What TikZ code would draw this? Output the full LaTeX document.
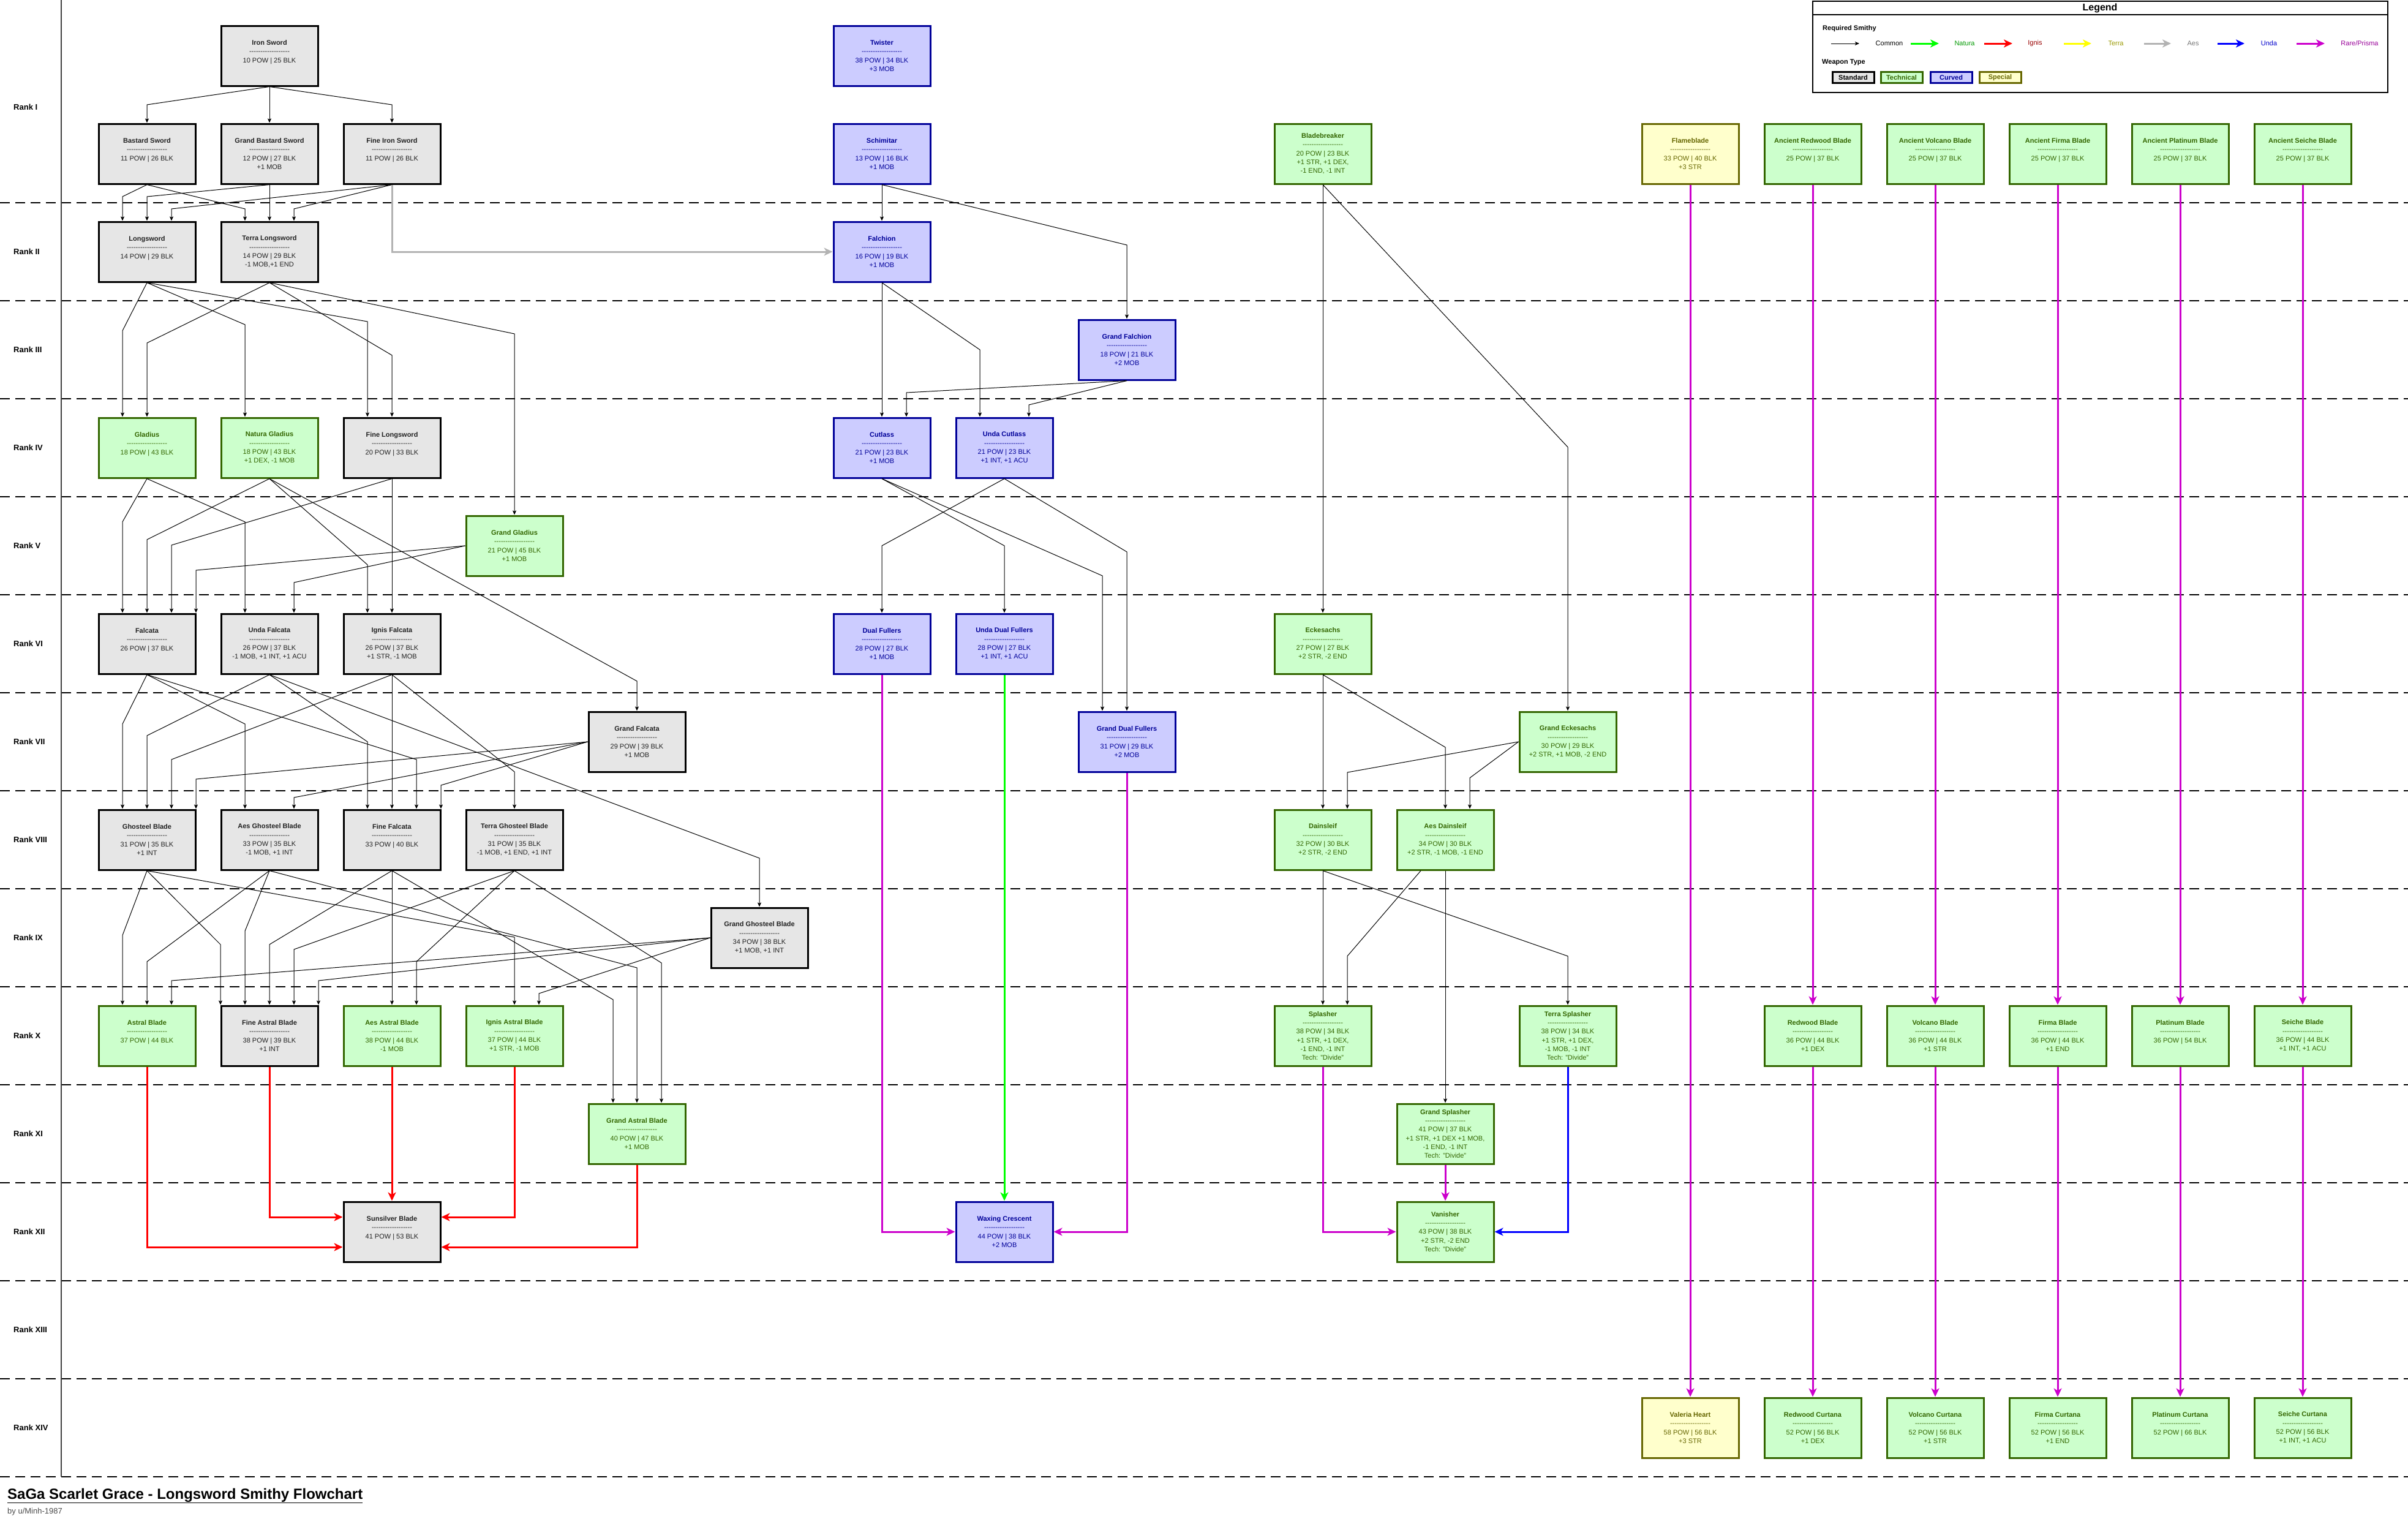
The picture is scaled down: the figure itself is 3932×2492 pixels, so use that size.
\documentclass[tikz,border=0pt]{standalone}
\usepackage{fontspec}
\setmainfont{Liberation Sans}
\usetikzlibrary{arrows.meta}
\definecolor{stdfill}{HTML}{E6E6E6}
\definecolor{stdtext}{HTML}{222222}
\definecolor{techfill}{HTML}{CCFFCC}
\definecolor{techline}{HTML}{336600}
\definecolor{curvfill}{HTML}{CCCCFF}
\definecolor{curvline}{HTML}{000099}
\definecolor{specfill}{HTML}{FFFFCC}
\definecolor{specline}{HTML}{666600}
\definecolor{cnatura}{HTML}{00FF00}
\definecolor{cignis}{HTML}{FF0000}
\definecolor{cterra}{HTML}{FFFF00}
\definecolor{caes}{HTML}{B3B3B3}
\definecolor{cunda}{HTML}{0000FF}
\definecolor{crare}{HTML}{CC00CC}
\definecolor{tnatura}{HTML}{009900}
\definecolor{tignis}{HTML}{990000}
\definecolor{tterra}{HTML}{999900}
\definecolor{taes}{HTML}{777777}
\definecolor{tunda}{HTML}{0000CC}
\definecolor{trare}{HTML}{990099}
\newcommand\hy{\mbox{-}\mbox{-}\mbox{-}\mbox{-}\mbox{-}\mbox{-}\mbox{-}\mbox{-}\mbox{-}\mbox{-}\mbox{-}\mbox{-}\mbox{-}\mbox{-}\mbox{-}\mbox{-}\mbox{-}\mbox{-}}
\newcommand\wpn[2]{\textbf{#1}\\\hy\\#2}
\newcommand\wpo[2]{\textbf{#1}\\\hy\\#2\\\mbox{}}
\newcommand\ed[4]{\draw[cmn] (#1) -- (#2,#3) -- (#2,#3 |- #4.north);}
\tikzset{
  wbox/.style={rectangle, minimum width=158pt, minimum height=98pt, inner sep=0pt, line width=3pt, align=center, font=\fontsize{11}{14.3}\selectfont},
  std/.style={wbox, draw=black, fill=stdfill, text=stdtext},
  tech/.style={wbox, draw=techline, fill=techfill, text=techline},
  curv/.style={wbox, draw=curvline, fill=curvfill, text=curvline},
  spec/.style={wbox, draw=specline, fill=specfill, text=specline},
  cmn/.style={draw=black, line width=1pt, -{Stealth[length=7pt,width=6pt,inset=1.5pt]}},
  fat/.style={line width=3pt, -{Stealth[length=14pt,width=13pt,inset=4pt]}},
  natura/.style={fat, draw=cnatura},
  ignis/.style={fat, draw=cignis},
  terra/.style={fat, draw=cterra},
  aes/.style={fat, draw=caes},
  unda/.style={fat, draw=cunda},
  rare/.style={fat, draw=crare},
  rankline/.style={draw=black, line width=1.4pt, dash pattern=on 16pt off 9pt},
  ranklbl/.style={anchor=west, font=\bfseries\fontsize{13}{15}\selectfont, inner sep=0pt},
  lgtxt/.style={font=\fontsize{11}{13}\selectfont, inner sep=0pt},
  swatch/.style={line width=3pt, minimum width=68pt, minimum height=18.5pt, inner sep=0pt, font=\bfseries\fontsize{11}{13}\selectfont}
}
\begin{document}
\begin{tikzpicture}[x=1pt,y=-1pt]
\fill[white] (0,0) rectangle (3932,2492);
\useasboundingbox (0,0) rectangle (3932,2492);
% rank separators
\foreach \yy in {331,491,...,2411} \draw[rankline] (0,\yy) -- (3932,\yy);
\draw[line width=1.5pt, black!75] (100,0) -- (100,2411);
\foreach \lab/\yy in {I/175,II/411,III/571,IV/731,V/891,VI/1051,VII/1211,VIII/1371,IX/1531,X/1691,XI/1851,XII/2011,XIII/2171,XIV/2331}
  \node[ranklbl] (rk\lab) at (22,\yy) {Rank \lab};

% ---------------- nodes ----------------
\node[std] (iron) at (440,91) {\wpo{Iron Sword}{10 POW | 25 BLK}};
\node[curv] (twister) at (1440,91) {\wpn{Twister}{38 POW | 34 BLK\\+3 MOB}};
\node[std] (bastard) at (240,251) {\wpo{Bastard Sword}{11 POW | 26 BLK}};
\node[std] (gbastard) at (440,251) {\wpn{Grand Bastard Sword}{12 POW | 27 BLK\\+1 MOB}};
\node[std] (fineiron) at (640,251) {\wpo{Fine Iron Sword}{11 POW | 26 BLK}};
\node[curv] (schimitar) at (1440,251) {\wpn{Schimitar}{13 POW | 16 BLK\\+1 MOB}};
\node[tech] (bladebreaker) at (2160,251) {\wpn{Bladebreaker}{20 POW | 23 BLK\\+1 STR, +1 DEX,\\-1 END, -1 INT}};
\node[spec] (flameblade) at (2760,251) {\wpn{Flameblade}{33 POW | 40 BLK\\+3 STR}};
\node[tech] (aredwood) at (2960,251) {\wpo{Ancient Redwood Blade}{25 POW | 37 BLK}};
\node[tech] (avolcano) at (3160,251) {\wpo{Ancient Volcano Blade}{25 POW | 37 BLK}};
\node[tech] (afirma) at (3360,251) {\wpo{Ancient Firma Blade}{25 POW | 37 BLK}};
\node[tech] (aplatinum) at (3560,251) {\wpo{Ancient Platinum Blade}{25 POW | 37 BLK}};
\node[tech] (aseiche) at (3760,251) {\wpo{Ancient Seiche Blade}{25 POW | 37 BLK}};
\node[std] (longsword) at (240,411) {\wpo{Longsword}{14 POW | 29 BLK}};
\node[std] (terralong) at (440,411) {\wpn{Terra Longsword}{14 POW | 29 BLK\\-1 MOB,+1 END}};
\node[curv] (falchion) at (1440,411) {\wpn{Falchion}{16 POW | 19 BLK\\+1 MOB}};
\node[curv] (gfalchion) at (1840,571) {\wpn{Grand Falchion}{18 POW | 21 BLK\\+2 MOB}};
\node[tech] (gladius) at (240,731) {\wpo{Gladius}{18 POW | 43 BLK}};
\node[tech] (nagladius) at (440,731) {\wpn{Natura Gladius}{18 POW | 43 BLK\\+1 DEX, -1 MOB}};
\node[std] (finelong) at (640,731) {\wpo{Fine Longsword}{20 POW | 33 BLK}};
\node[curv] (cutlass) at (1440,731) {\wpn{Cutlass}{21 POW | 23 BLK\\+1 MOB}};
\node[curv] (ucutlass) at (1640,731) {\wpn{Unda Cutlass}{21 POW | 23 BLK\\+1 INT, +1 ACU}};
\node[tech] (ggladius) at (840,891) {\wpn{Grand Gladius}{21 POW | 45 BLK\\+1 MOB}};
\node[std] (falcata) at (240,1051) {\wpo{Falcata}{26 POW | 37 BLK}};
\node[std] (ufalcata) at (440,1051) {\wpn{Unda Falcata}{26 POW | 37 BLK\\-1 MOB, +1 INT, +1 ACU}};
\node[std] (ifalcata) at (640,1051) {\wpn{Ignis Falcata}{26 POW | 37 BLK\\+1 STR, -1 MOB}};
\node[curv] (dualf) at (1440,1051) {\wpn{Dual Fullers}{28 POW | 27 BLK\\+1 MOB}};
\node[curv] (udualf) at (1640,1051) {\wpn{Unda Dual Fullers}{28 POW | 27 BLK\\+1 INT, +1 ACU}};
\node[tech] (eckesachs) at (2160,1051) {\wpn{Eckesachs}{27 POW | 27 BLK\\+2 STR, -2 END}};
\node[std] (gfalcata) at (1040,1211) {\wpn{Grand Falcata}{29 POW | 39 BLK\\+1 MOB}};
\node[curv] (gdualf) at (1840,1211) {\wpn{Grand Dual Fullers}{31 POW | 29 BLK\\+2 MOB}};
\node[tech] (geckesachs) at (2560,1211) {\wpn{Grand Eckesachs}{30 POW | 29 BLK\\+2 STR, +1 MOB, -2 END}};
\node[std] (ghosteel) at (240,1371) {\wpn{Ghosteel Blade}{31 POW | 35 BLK\\+1 INT}};
\node[std] (aghosteel) at (440,1371) {\wpn{Aes Ghosteel Blade}{33 POW | 35 BLK\\-1 MOB, +1 INT}};
\node[std] (finefalcata) at (640,1371) {\wpo{Fine Falcata}{33 POW | 40 BLK}};
\node[std] (tghosteel) at (840,1371) {\wpn{Terra Ghosteel Blade}{31 POW | 35 BLK\\-1 MOB, +1 END, +1 INT}};
\node[tech] (dainsleif) at (2160,1371) {\wpn{Dainsleif}{32 POW | 30 BLK\\+2 STR, -2 END}};
\node[tech] (adainsleif) at (2360,1371) {\wpn{Aes Dainsleif}{34 POW | 30 BLK\\+2 STR, -1 MOB, -1 END}};
\node[std] (gghosteel) at (1240,1531) {\wpn{Grand Ghosteel Blade}{34 POW | 38 BLK\\+1 MOB, +1 INT}};
\node[tech] (astral) at (240,1691) {\wpo{Astral Blade}{37 POW | 44 BLK}};
\node[std] (fastral) at (440,1691) {\wpn{Fine Astral Blade}{38 POW | 39 BLK\\+1 INT}};
\node[tech] (aastral) at (640,1691) {\wpn{Aes Astral Blade}{38 POW | 44 BLK\\-1 MOB}};
\node[tech] (iastral) at (840,1691) {\wpn{Ignis Astral Blade}{37 POW | 44 BLK\\+1 STR, -1 MOB}};
\node[tech] (splasher) at (2160,1691) {\wpn{Splasher}{38 POW | 34 BLK\\+1 STR, +1 DEX,\\-1 END, -1 INT\\Tech: "Divide"}};
\node[tech] (tsplasher) at (2560,1691) {\wpn{Terra Splasher}{38 POW | 34 BLK\\+1 STR, +1 DEX,\\-1 MOB, -1 INT\\Tech: "Divide"}};
\node[tech] (redwood) at (2960,1691) {\wpn{Redwood Blade}{36 POW | 44 BLK\\+1 DEX}};
\node[tech] (volcano) at (3160,1691) {\wpn{Volcano Blade}{36 POW | 44 BLK\\+1 STR}};
\node[tech] (firma) at (3360,1691) {\wpn{Firma Blade}{36 POW | 44 BLK\\+1 END}};
\node[tech] (platinum) at (3560,1691) {\wpo{Platinum Blade}{36 POW | 54 BLK}};
\node[tech] (seiche) at (3760,1691) {\wpn{Seiche Blade}{36 POW | 44 BLK\\+1 INT, +1 ACU}};
\node[tech] (gastral) at (1040,1851) {\wpn{Grand Astral Blade}{40 POW | 47 BLK\\+1 MOB}};
\node[tech] (gsplasher) at (2360,1851) {\wpn{Grand Splasher}{41 POW | 37 BLK\\+1 STR, +1 DEX +1 MOB,\\-1 END, -1 INT\\Tech: "Divide"}};
\node[std] (sunsilver) at (640,2011) {\wpo{Sunsilver Blade}{41 POW | 53 BLK}};
\node[curv] (waxing) at (1640,2011) {\wpn{Waxing Crescent}{44 POW | 38 BLK\\+2 MOB}};
\node[tech] (vanisher) at (2360,2011) {\wpn{Vanisher}{43 POW | 38 BLK\\+2 STR, -2 END\\Tech: "Divide"}};
\node[spec] (valeria) at (2760,2331) {\wpn{Valeria Heart}{58 POW | 56 BLK\\+3 STR}};
\node[tech] (rcurtana) at (2960,2331) {\wpn{Redwood Curtana}{52 POW | 56 BLK\\+1 DEX}};
\node[tech] (vcurtana) at (3160,2331) {\wpn{Volcano Curtana}{52 POW | 56 BLK\\+1 STR}};
\node[tech] (fcurtana) at (3360,2331) {\wpn{Firma Curtana}{52 POW | 56 BLK\\+1 END}};
\node[tech] (pcurtana) at (3560,2331) {\wpo{Platinum Curtana}{52 POW | 66 BLK}};
\node[tech] (scurtana) at (3760,2331) {\wpn{Seiche Curtana}{52 POW | 56 BLK\\+1 INT, +1 ACU}};

% ---------------- common connectors ----------------
\ed{iron.south}{240}{171}{bastard}
\draw[cmn] (iron.south) -- (gbastard.north);
\ed{iron.south}{640}{171}{fineiron}
\ed{bastard.south}{200}{321}{longsword}
\ed{bastard.south}{400}{341}{terralong}
\ed{gbastard.south}{240}{321}{longsword}
\draw[cmn] (gbastard.south) -- (terralong.north);
\ed{fineiron.south}{280}{341}{longsword}
\ed{fineiron.south}{480}{341}{terralong}
\draw[cmn] (schimitar.south) -- (falchion.north);
\ed{schimitar.south}{1840}{400}{gfalchion}
% II -> IV
\ed{longsword.south}{200}{540}{gladius}
\ed{longsword.south}{400}{530}{nagladius}
\ed{longsword.south}{600}{525}{finelong}
\ed{terralong.south}{240}{560}{gladius}
\ed{terralong.south}{640}{580}{finelong}
\ed{terralong.south}{840}{545}{ggladius}
\draw[cmn] (falchion.south) -- (cutlass.north);
\ed{falchion.south}{1600}{571}{ucutlass}
\ed{gfalchion.south}{1480}{641}{cutlass}
\ed{gfalchion.south}{1680}{661}{ucutlass}
% IV -> VI
\ed{gladius.south}{200}{852}{falcata}
\ed{gladius.south}{400}{852}{ufalcata}
\ed{nagladius.south}{240}{881}{falcata}
\ed{nagladius.south}{600}{922}{ifalcata}
\ed{nagladius.south}{1040}{1112}{gfalcata}
\ed{finelong.south}{280}{890}{falcata}
\draw[cmn] (finelong.south) -- (ifalcata.north);
\ed{ggladius.west}{320}{931}{falcata}
\ed{ggladius.west}{480}{951}{ufalcata}
\ed{cutlass.south}{1640}{891}{udualf}
\ed{cutlass.south}{1800}{940}{gdualf}
\ed{ucutlass.south}{1440}{891}{dualf}
\ed{ucutlass.south}{1840}{901}{gdualf}
\draw[cmn] (bladebreaker.south) -- (eckesachs.north);
\ed{bladebreaker.south}{2560}{730}{geckesachs}
% VI -> VIII
\ed{falcata.south}{200}{1182}{ghosteel}
\ed{falcata.south}{400}{1182}{aghosteel}
\ed{falcata.south}{680}{1240}{finefalcata}
\ed{ufalcata.south}{240}{1201}{ghosteel}
\ed{ufalcata.south}{600}{1211}{finefalcata}
\ed{ufalcata.south}{1240}{1401}{gghosteel}
\ed{ifalcata.south}{280}{1240}{ghosteel}
\draw[cmn] (ifalcata.south) -- (finefalcata.north);
\ed{ifalcata.south}{840}{1260}{tghosteel}
\ed{gfalcata.west}{320}{1272}{ghosteel}
\ed{gfalcata.west}{480}{1302}{aghosteel}
\ed{gfalcata.west}{720}{1282}{finefalcata}
\draw[cmn] (eckesachs.south) -- (dainsleif.north);
\ed{eckesachs.south}{2360}{1220}{adainsleif}
\ed{geckesachs.west}{2200}{1261}{dainsleif}
\ed{geckesachs.west}{2400}{1270}{adainsleif}
% VIII -> X
\ed{ghosteel.south}{200}{1527}{astral}
\ed{ghosteel.south}{360}{1542}{fastral}
\ed{ghosteel.south}{840}{1530}{iastral}
\ed{aghosteel.south}{240}{1570}{astral}
\ed{aghosteel.south}{400}{1520}{fastral}
\ed{aghosteel.south}{1040}{1580}{gastral}
\ed{finefalcata.south}{440}{1542}{fastral}
\draw[cmn] (finefalcata.south) -- (aastral.north);
\ed{finefalcata.south}{1001}{1632}{gastral}
\ed{tghosteel.south}{480}{1550}{fastral}
\ed{tghosteel.south}{680}{1570}{aastral}
\ed{tghosteel.south}{1080}{1572}{gastral}
\ed{gghosteel.west}{280}{1601}{astral}
\ed{gghosteel.west}{520}{1601}{fastral}
\ed{gghosteel.west}{880}{1622}{iastral}
\draw[cmn] (dainsleif.south) -- (splasher.north);
\ed{dainsleif.south}{2560}{1561}{tsplasher}
\draw[cmn] ([xshift=-40pt]adainsleif.south) -- (2200,1561) -- (2200,1561 |- splasher.north);
\draw[cmn] (adainsleif.south) -- (gsplasher.north);

% ---------------- smithy connectors ----------------
\draw[aes] (fineiron.south) |- (falchion.west);
\draw[ignis] (astral.south) |- (sunsilver.west |- 0,2036);
\draw[ignis] (fastral.south) |- (sunsilver.west |- 0,1987);
\draw[ignis] (aastral.south) -- (sunsilver.north);
\draw[ignis] (iastral.south) |- (sunsilver.east |- 0,1987);
\draw[ignis] (gastral.south) |- (sunsilver.east |- 0,2036);
\draw[rare] (dualf.south) |- (waxing.west);
\draw[natura] (udualf.south) -- (waxing.north);
\draw[rare] (gdualf.south) |- (waxing.east);
\draw[rare] (splasher.south) |- (vanisher.west);
\draw[rare] (gsplasher.south) -- (vanisher.north);
\draw[unda] (tsplasher.south) |- (vanisher.east);
\draw[rare] (flameblade.south) -- (valeria.north);
\draw[rare] (aredwood.south) -- (redwood.north);
\draw[rare] (avolcano.south) -- (volcano.north);
\draw[rare] (afirma.south) -- (firma.north);
\draw[rare] (aplatinum.south) -- (platinum.north);
\draw[rare] (aseiche.south) -- (seiche.north);
\draw[rare] (redwood.south) -- (rcurtana.north);
\draw[rare] (volcano.south) -- (vcurtana.north);
\draw[rare] (firma.south) -- (fcurtana.north);
\draw[rare] (platinum.south) -- (pcurtana.north);
\draw[rare] (seiche.south) -- (scurtana.north);

% ---------------- legend ----------------
\draw[line width=1.2pt, fill=white] (2960,2) rectangle (3899,151);
\draw[line width=1.2pt] (2960,24) -- (3899,24);
\node[font=\bfseries\fontsize{16}{18}\selectfont, inner sep=0pt] (lgtitle) at (3429,13) {Legend};
\node[anchor=west, font=\bfseries\fontsize{11}{13}\selectfont, inner sep=0pt] (lgreq) at (2976,47) {Required Smithy};
\coordinate (la1) at (2990,71); \coordinate (lb1) at (3036,71);
\draw[cmn] (la1) -- (lb1);
\node[lgtxt] (lgcommon) at (3085,71) {Common};
\coordinate (la2) at (3120,71); \coordinate (lb2) at (3166,71);
\draw[natura] (la2) -- (lb2);
\node[lgtxt, text=tnatura] (lgnatura) at (3208,71) {Natura};
\coordinate (la3) at (3240,71); \coordinate (lb3) at (3286,71);
\draw[ignis] (la3) -- (lb3);
\node[lgtxt, text=tignis] (lgignis) at (3323,71) {Ignis};
\coordinate (la4) at (3370,71); \coordinate (lb4) at (3415,71);
\draw[terra] (la4) -- (lb4);
\node[lgtxt, text=tterra] (lgterra) at (3455,71) {Terra};
\coordinate (la5) at (3501,71); \coordinate (lb5) at (3545,71);
\draw[aes] (la5) -- (lb5);
\node[lgtxt, text=taes] (lgaes) at (3581,71) {Aes};
\coordinate (la6) at (3621,71); \coordinate (lb6) at (3665,71);
\draw[unda] (la6) -- (lb6);
\node[lgtxt, text=tunda] (lgunda) at (3705,71) {Unda};
\coordinate (la7) at (3750,71); \coordinate (lb7) at (3796,71);
\draw[rare] (la7) -- (lb7);
\node[lgtxt, text=trare] (lgrare) at (3853,71) {Rare/Prisma};
\node[anchor=west, font=\bfseries\fontsize{11}{13}\selectfont, inner sep=0pt] (lgtype) at (2975,102) {Weapon Type};
\node[swatch, draw=black, fill=stdfill, text=black] (swstd) at (3026,126.5) {Standard};
\node[swatch, draw=techline, fill=techfill, text=techline] (swtech) at (3105,126.5) {Technical};
\node[swatch, draw=curvline, fill=curvfill, text=curvline] (swcurv) at (3186,126.5) {Curved};
\node[swatch, draw=specline, fill=specfill, text=specline] (swspec) at (3266,126.5) {Special};

% ---------------- title ----------------
\node[anchor=base west, font=\bfseries\fontsize{24}{28}\selectfont, inner sep=0pt] (title) at (12,2447) {\underline{SaGa Scarlet Grace - Longsword Smithy Flowchart}};
\node[anchor=base west, font=\fontsize{13}{15}\selectfont, text=black!70, inner sep=0pt] (author) at (12,2471) {by u/Minh-1987};
\end{tikzpicture}
\end{document}
